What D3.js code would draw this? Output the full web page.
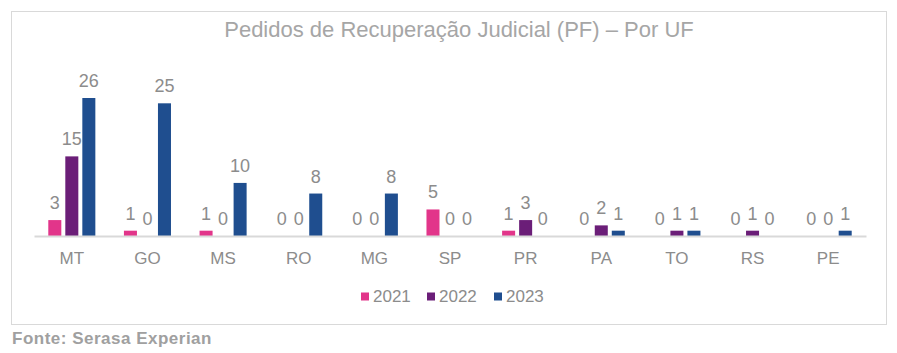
<!DOCTYPE html>
<html>
<head>
<meta charset="utf-8">
<script src="https://cdn.jsdelivr.net/npm/d3@7"></script>
<style>
  body { margin: 0; background: #fff; }
  svg { display: block; font-family: Arial, "Liberation Sans", sans-serif; }
</style>
</head>
<body>
<div id="chart"></div>
<script>
const states = ["MT", "GO", "MS", "RO", "MG", "SP", "PR", "PA", "TO", "RS", "PE"];
const years = ["2021", "2022", "2023"];
const v2021 = [3, 1, 1, 0, 0, 5, 1, 0, 0, 0, 0];
const v2022 = [15, 0, 0, 0, 0, 0, 3, 2, 1, 1, 0];
const v2023 = [26, 25, 10, 8, 8, 0, 0, 1, 1, 0, 1];
const colors = ["#E2358A", "#6B1E78", "#1F4E8F"];

const width = 897, height = 353;
const baseY = 236;

const svg = d3.select("#chart").append("svg")
    .attr("width", width)
    .attr("height", height);

// frame
svg.append("rect")
    .attr("x", 11.5).attr("y", 11.5)
    .attr("width", 875).attr("height", 313)
    .attr("fill", "#fff")
    .attr("stroke", "#d9d9d9");

svg.append("text")
    .attr("x", 459).attr("y", 37)
    .attr("text-anchor", "middle")
    .attr("fill", "#a6a6a6")
    .style("font-size", "22px")
    .text("Pedidos de Recuperação Judicial (PF) – Por UF");

const x = d3.scaleBand().domain(states).range([34, 866]).padding(0);
const xs = d3.scaleBand().domain(years).range([0, x.bandwidth()])
    .paddingInner(0.235).paddingOuter(0.84);
const y = d3.scaleLinear().domain([0, 26]).range([baseY, 98]);

const rows = states.map((s, i) => ({ state: s, values: [v2021[i], v2022[i], v2023[i]] }));

const groups = svg.append("g").selectAll("g")
    .data(rows)
    .join("g")
    .attr("transform", d => `translate(${x(d.state)},0)`);

groups.selectAll("rect")
    .data(d => d.values.map((v, j) => ({ year: years[j], value: v, color: colors[j] })))
    .join("rect")
    .attr("x", d => xs(d.year))
    .attr("y", d => y(d.value))
    .attr("width", xs.bandwidth())
    .attr("height", d => baseY - y(d.value))
    .attr("fill", d => d.color);

groups.selectAll("text")
    .data(d => d.values.map((v, j) => ({ year: years[j], value: v })))
    .join("text")
    .attr("x", d => xs(d.year) + xs.bandwidth() / 2)
    .attr("y", d => y(d.value) - 11)
    .attr("text-anchor", "middle")
    .attr("fill", "#8c8c8c")
    .style("font-size", "18px")
    .text(d => d.value);

// x axis
const xAxis = svg.append("g")
    .attr("transform", `translate(0,${baseY})`)
    .call(d3.axisBottom(x).tickSize(0).tickPadding(16));
xAxis.select(".domain").attr("stroke", "#d9d9d9").attr("stroke-width", 2);
xAxis.selectAll("text")
    .attr("fill", "#8c8c8c")
    .style("font-size", "17px")
    .style("font-family", "Arial, 'Liberation Sans', sans-serif");

// legend
const legendX = [361, 427, 494];
const legend = svg.append("g");
years.forEach((yr, j) => {
    legend.append("rect")
        .attr("x", legendX[j]).attr("y", 292.5)
        .attr("width", 8).attr("height", 8)
        .attr("fill", colors[j]);
    legend.append("text")
        .attr("x", legendX[j] + 12).attr("y", 302)
        .attr("fill", "#8c8c8c")
        .style("font-size", "17px")
        .text(yr);
});

svg.append("text")
    .attr("x", 12).attr("y", 344)
    .attr("fill", "#a0a0a0")
    .style("font-size", "17px")
    .style("font-weight", "bold")
    .style("letter-spacing", "0.5px")
    .text("Fonte: Serasa Experian");
</script>
</body>
</html>
